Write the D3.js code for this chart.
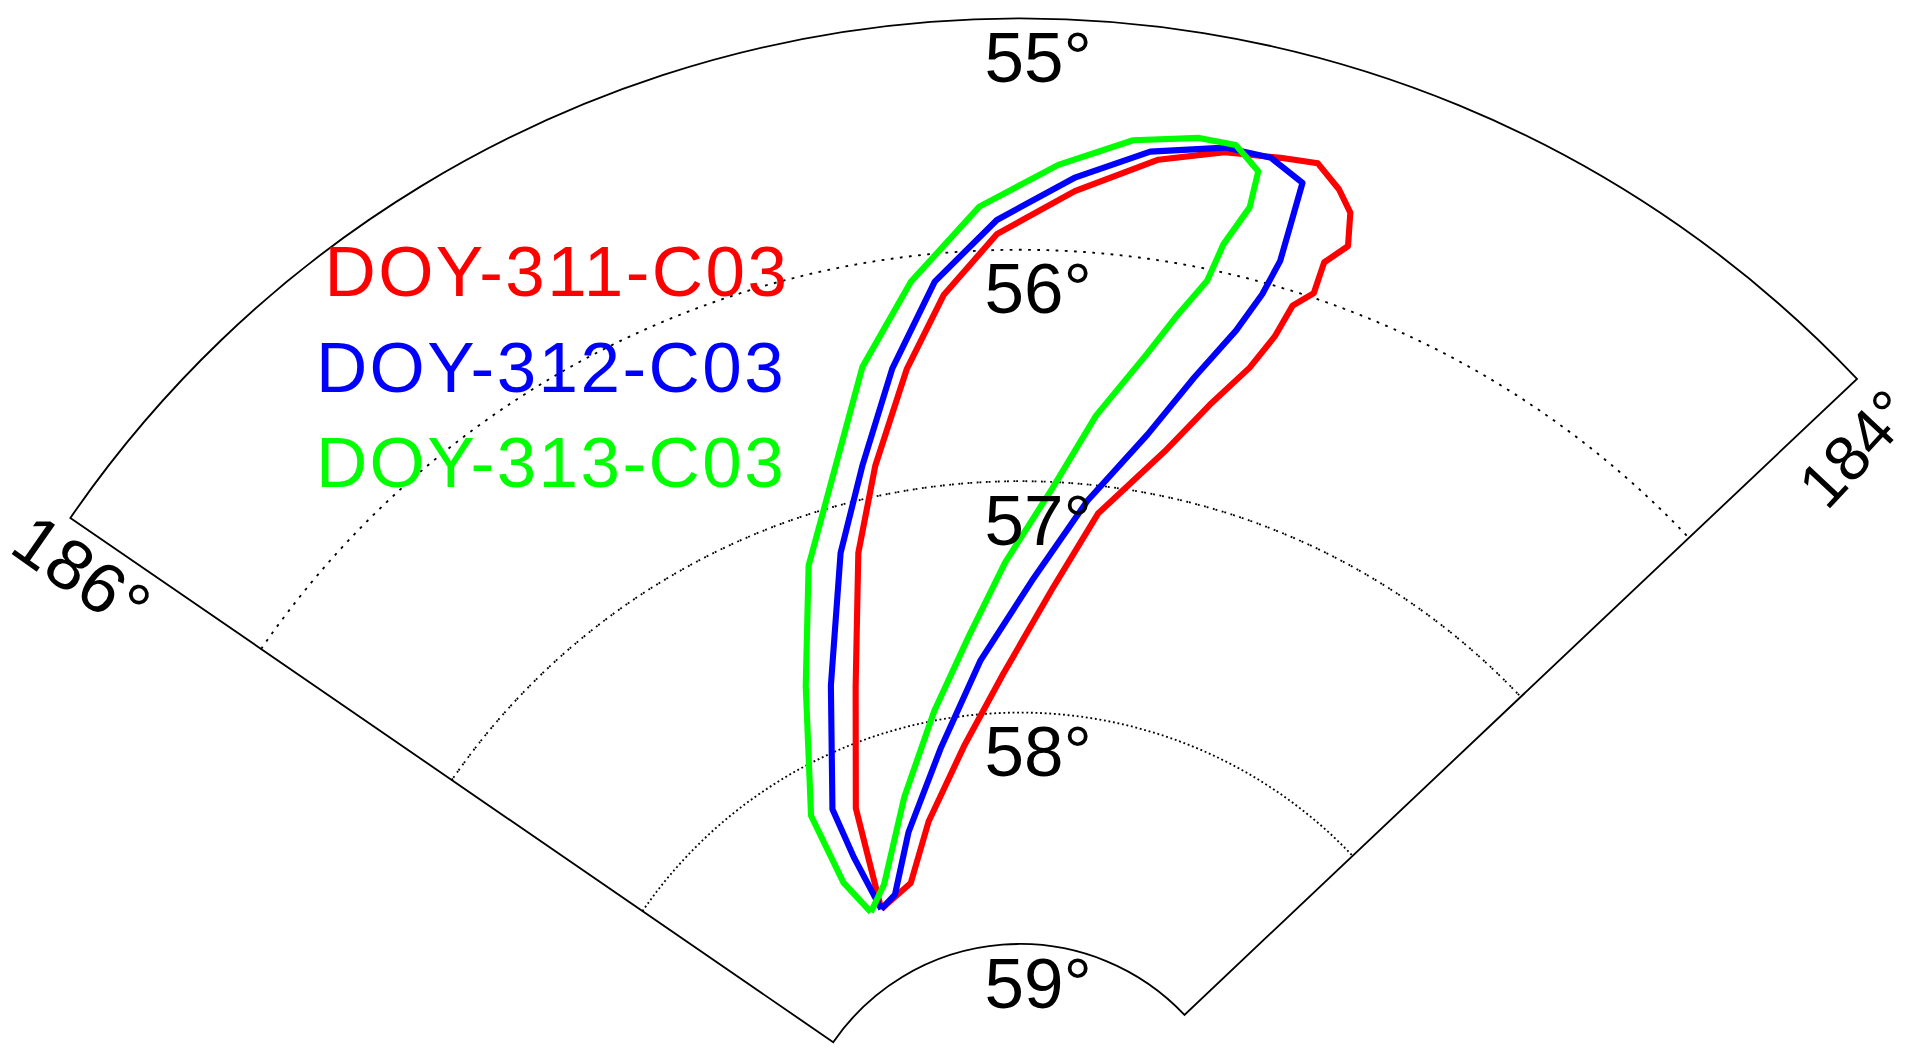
<!DOCTYPE html>
<html><head><meta charset="utf-8">
<script src="https://cdn.jsdelivr.net/npm/d3@7"></script>
<style>body{margin:0;background:#fff}</style>
</head><body>
<script>
// lat/lon rings of the sector
var latTicks = [55, 56, 57, 58, 59];
var lonTicks = [184, 186];
var seriesNames = ["DOY-311-C03", "DOY-312-C03", "DOY-313-C03"];
var seriesColors = ["#ff0000", "#0000ff", "#00ff00"];

var lon311 = [185.46,185.39,185.28,185.20,185.14,185.07,185.01,184.94,184.85,184.76,184.69,184.63,184.59,184.56,184.54,184.53,184.55,184.55,184.57,184.58,184.60,184.64,184.69,184.78,184.85,184.95,185.06,185.20,185.32,185.46];
var lat311 = [58.70,58.26,57.77,57.22,56.87,56.48,56.18,55.93,55.74,55.57,55.49,55.46,55.44,55.52,55.60,55.74,55.84,55.98,56.06,56.21,56.37,56.57,56.81,57.12,57.46,57.83,58.13,58.42,58.65,58.70];
var lon312 = [185.46,185.46,185.45,185.33,185.23,185.16,185.09,185.02,184.94,184.85,184.77,184.69,184.64,184.60,184.60,184.60,184.61,184.63,184.67,184.72,184.80,184.89,185.00,185.12,185.27,185.39,185.46];
var lat312 = [58.70,58.45,58.22,57.73,57.20,56.86,56.47,56.12,55.87,55.68,55.54,55.47,55.47,55.54,55.71,55.89,56.05,56.23,56.47,56.75,57.07,57.43,57.77,58.12,58.44,58.67,58.70];
var lon313 = [185.50,185.53,185.51,185.38,185.29,185.21,185.13,185.05,184.96,184.87,184.79,184.72,184.68,184.65,184.65,184.67,184.68,184.71,184.74,184.80,184.86,184.94,185.02,185.12,185.25,185.41,185.50];
var lat313 = [58.69,58.52,58.20,57.69,57.21,56.88,56.44,56.11,55.81,55.63,55.50,55.45,55.45,55.54,55.70,55.88,56.05,56.23,56.41,56.70,57.03,57.35,57.66,57.96,58.29,58.61,58.69];

var series = [[lon311, lat311], [lon312, lat312], [lon313, lat313]];

var cx = 833, cy = 956;
var rScale = d3.scaleLinear().domain([55, 59]).range([941, 185]);
var aScale = d3.scaleLinear().domain([184, 186]).range([46.6 * Math.PI / 180, -55.5 * Math.PI / 180]);

function px(lon, lat) {
    var r = rScale(lat), a = aScale(lon);
    return [cx + r * Math.sin(a), cy - r * Math.cos(a)];
}

var svg = d3.select("body").append("svg")
    .attr("width", 1910).attr("height", 1048);
var g = svg.append("g").attr("transform", "scale(" + (1910 / 1560) + ")");
var plot = g.append("g").attr("transform", "translate(" + cx + "," + cy + ")");

var a0 = aScale(186), a1 = aScale(184);
var tickFont = "Liberation Sans, Arial, sans-serif";

// dotted inner rings
plot.selectAll(".ring").data([56, 57, 58]).enter().append("path")
    .attr("d", function(d) {
        return d3.arc()({innerRadius: rScale(d), outerRadius: rScale(d), startAngle: a0, endAngle: a1});
    })
    .attr("fill", "none").attr("stroke", "#000").attr("stroke-width", 1.5)
    .attr("stroke-dasharray", "1.5,6");

// frame
plot.append("path")
    .attr("d", d3.arc()({innerRadius: rScale(59), outerRadius: rScale(55), startAngle: a0, endAngle: a1}))
    .attr("fill", "none").attr("stroke", "#000").attr("stroke-width", 1.5);

// curves
var line = d3.line();
series.forEach(function(s, i) {
    var pts = s[0].map(function(lon, j) { return px(lon, s[1][j]); });
    g.append("path").attr("d", line(pts))
        .attr("fill", "none").attr("stroke", seriesColors[i])
        .attr("stroke-width", 5).attr("stroke-linejoin", "round");
});

// latitude labels
g.selectAll(".latlab").data(latTicks).enter().append("text")
    .attr("x", 848).attr("y", function(d) { return cy - rScale(d) + 52; })
    .attr("text-anchor", "middle")
    .style("font-family", tickFont).style("font-size", "58px")
    .text(function(d) { return d + "°"; });

// longitude labels
g.append("text").attr("transform", "translate(6,450) rotate(35)")
    .style("font-family", tickFont).style("font-size", "58px")
    .text(lonTicks[1] + "°");
g.append("text").attr("transform", "translate(1492,418) rotate(-47)")
    .style("font-family", tickFont).style("font-size", "52px")
    .text(lonTicks[0] + "°");

// legend text
g.selectAll(".leg").data(seriesNames).enter().append("text")
    .attr("x", function(d, i) { return i == 0 ? 265 : 258; })
    .attr("y", function(d, i) { return 242 + i * 78; })
    .attr("fill", function(d, i) { return seriesColors[i]; })
    .style("font-family", "Liberation Sans, Arial, sans-serif").style("font-size", "58px")
    .style("letter-spacing", "2px")
    .text(function(d) { return d; });
</script>
</body></html>
